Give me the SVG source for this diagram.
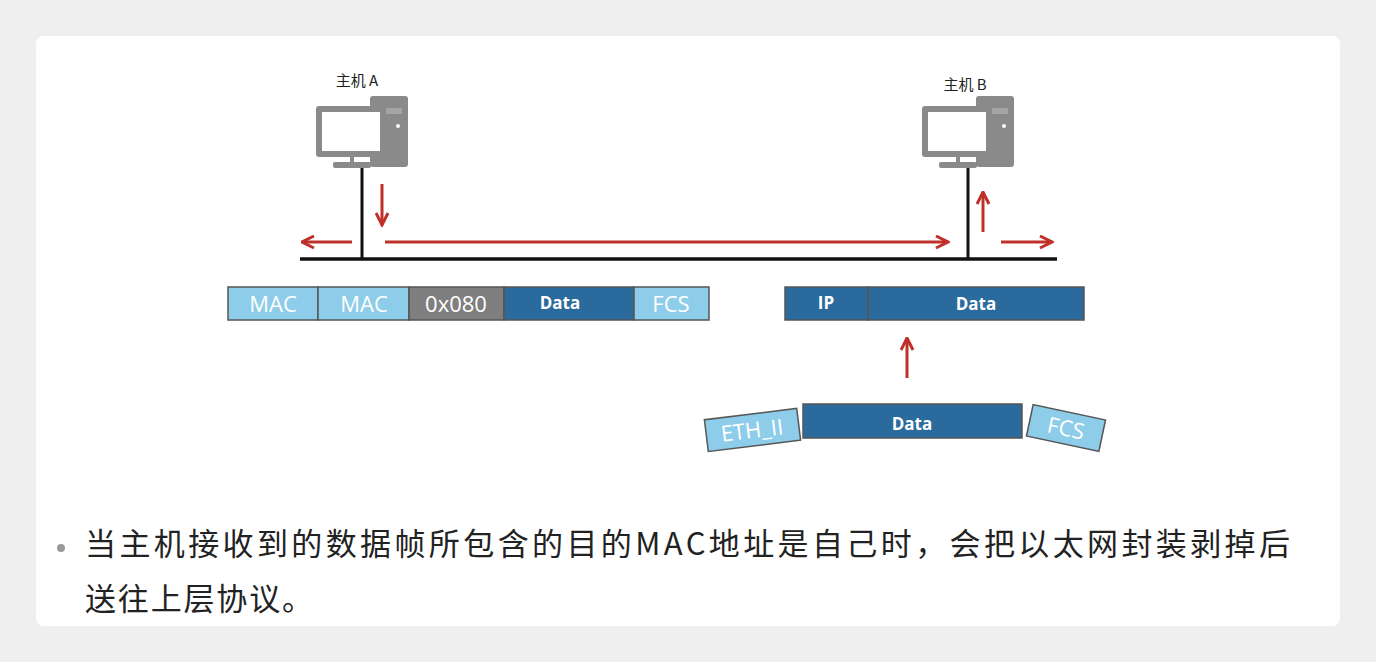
<svg xmlns="http://www.w3.org/2000/svg" width="1376" height="662" viewBox="0 0 1376 662">
<defs>
<style>
.lt{fill:#8ecdea;stroke:#555;stroke-width:1.5}
.dk{fill:#2a6a9c;stroke:#555;stroke-width:1.5}
.gr{fill:#7f7f7f;stroke:#555;stroke-width:1.5}
.ft{font-family:"Open Sans","Liberation Sans",sans-serif;fill:#fff;text-anchor:middle;font-size:22px}
.fb{font-family:"Open Sans","Liberation Sans",sans-serif;fill:#fff;text-anchor:middle;font-size:17px;font-weight:bold}
.lbl{font-family:"Noto Sans CJK SC",sans-serif;font-size:15px;fill:#222;text-anchor:middle}
.red{stroke:#c0302a;stroke-width:3;fill:none;marker-end:url(#ah)}
</style>
<marker id="ah" viewBox="0 0 10 10" refX="9" refY="5" markerWidth="5" markerHeight="5" orient="auto"><path d="M1,1 L9,5 L1,9" fill="none" stroke="#c0302a" stroke-width="2"/></marker>
<g id="pc">
<rect x="54" y="0" width="38" height="71" rx="3" fill="#8a8a8a"/>
<rect x="60" y="12" width="26" height="6" fill="#a5a5a5"/>
<circle cx="82" cy="30" r="2" fill="#fff"/>
<rect x="0" y="10" width="70" height="51" rx="3" fill="#8a8a8a"/>
<rect x="6" y="16" width="58" height="39" fill="#fff"/>
<rect x="17" y="66" width="38" height="6" rx="2" fill="#8a8a8a"/>
<rect x="34" y="61" width="4" height="6" fill="#8a8a8a"/>
</g>
</defs>
<rect width="1376" height="662" fill="#efefef"/>
<rect x="36" y="36" width="1304" height="590" rx="8" fill="#fff"/>
<g id="hostA"><use href="#pc" x="316" y="96"/><text class="lbl" x="357" y="86">主机 A</text></g>
<g id="hostB"><use href="#pc" x="922" y="96"/><text class="lbl" x="965" y="90">主机 B</text></g>
<g id="connectors">
<line x1="362" y1="168" x2="362" y2="260" stroke="#111" stroke-width="3"/>
<line x1="968" y1="168" x2="968" y2="260" stroke="#111" stroke-width="3"/>
<line x1="300" y1="259" x2="1057" y2="259" stroke="#111" stroke-width="3.5"/>
<line class="red" x1="382" y1="184" x2="382" y2="225"/>
<line class="red" x1="352" y1="242" x2="302" y2="242"/>
<line class="red" x1="385" y1="242" x2="948" y2="242"/>
<line class="red" x1="983" y1="232" x2="983" y2="192"/>
<line class="red" x1="1001" y1="242" x2="1052" y2="242"/>
<line class="red" x1="907" y1="378" x2="907" y2="338"/>
</g>
<g id="frame1">
<rect class="lt" x="228" y="287" width="90" height="33"/><text class="ft" x="273" y="312">MAC</text>
<rect class="lt" x="318" y="287" width="91" height="33"/><text class="ft" x="364" y="312">MAC</text>
<rect class="gr" x="409" y="287" width="95" height="33"/><text class="ft" x="456" y="312">0x080</text>
<rect class="dk" x="504" y="287" width="130" height="33"/><text class="fb" x="560" y="309">Data</text>
<rect class="lt" x="634" y="287" width="75" height="33"/><text class="ft" x="671" y="312">FCS</text>
</g>
<g id="frame2">
<rect class="dk" x="785" y="287" width="83" height="33"/><text class="fb" x="826" y="309">IP</text>
<rect class="dk" x="868" y="287" width="216" height="33"/><text class="fb" x="976" y="310">Data</text>
</g>
<g id="frame3">
<g transform="rotate(-7 752 430)"><rect class="lt" x="706" y="414" width="93" height="32"/><text class="ft" x="752" y="438">ETH_II</text></g>
<rect class="dk" x="803" y="404" width="219" height="34"/><text class="fb" x="912" y="430">Data</text>
<g transform="rotate(12 1066 428)"><rect class="lt" x="1029" y="412" width="74" height="32"/><text class="ft" x="1066" y="436">FCS</text></g>
</g>
<circle cx="61" cy="548" r="4" fill="#999"/>
<g font-family="'Noto Sans CJK SC',sans-serif" font-size="31" fill="#222">
<text x="85" y="555" textLength="1205" lengthAdjust="spacing">当主机接收到的数据帧所包含的目的MAC地址是自己时，会把以太网封装剥掉后</text>
<text x="85" y="610" textLength="228" lengthAdjust="spacing">送往上层协议。</text>
</g>
</svg>
